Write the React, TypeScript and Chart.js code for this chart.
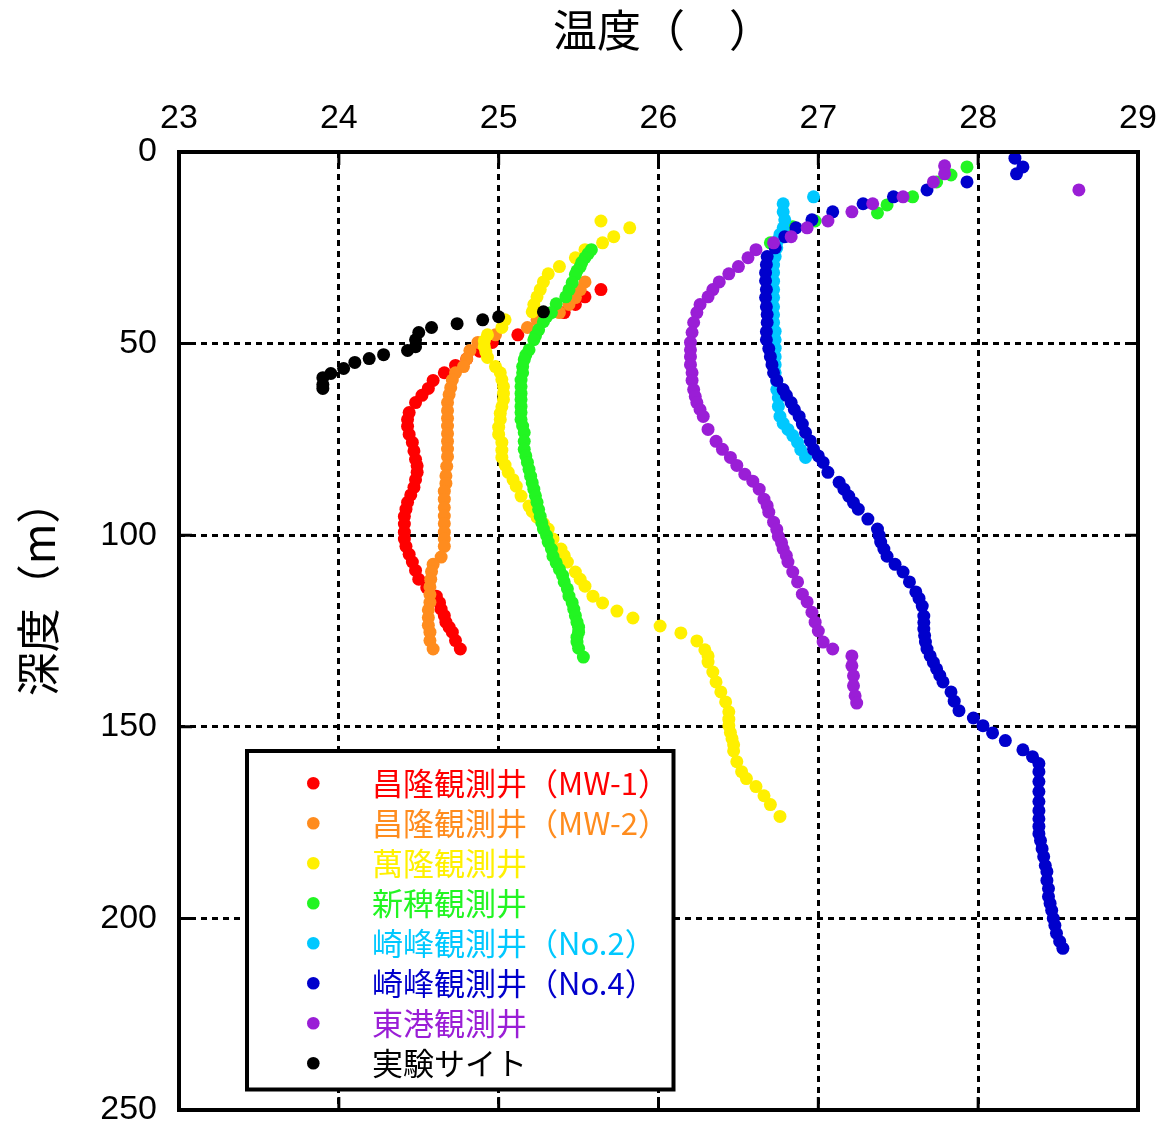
import React, { useEffect, useRef } from "react";
import { Chart, registerables } from "chart.js";

Chart.register(...registerables);

const xTicks = [23, 24, 25, 26, 27, 28, 29];
const yTicks = [0, 50, 100, 150, 200, 250];
const xTitle = "温度（　）";
const yTitle = "深度（m）";

const seriesNames = [
  "昌隆観測井（MW-1）",
  "昌隆観測井（MW-2）",
  "萬隆観測井",
  "新稗観測井",
  "崎峰観測井（No.2）",
  "崎峰観測井（No.4）",
  "東港観測井",
  "実験サイト",
];
const seriesColors = [
  "#ff0000",
  "#ff8c1e",
  "#fff000",
  "#22f522",
  "#00c8ff",
  "#0000cc",
  "#9a1ed6",
  "#000000",
];

// [temperature, depth]
const mw1: [number, number][] = [
  [25.64, 35.9], [25.54, 37.8], [25.48, 39.8], [25.41, 41.9], [25.12, 47.7],
  [24.96, 49.7], [24.88, 52.0], [24.8, 54.0], [24.73, 55.7], [24.66, 57.6],
  [24.59, 59.6], [24.56, 61.7], [24.52, 63.5], [24.48, 65.4], [24.44, 68.0],
  [24.43, 69.8], [24.43, 71.6], [24.44, 73.7], [24.46, 75.8], [24.47, 78.0],
  [24.48, 80.2], [24.49, 81.9], [24.49, 83.6], [24.48, 85.5], [24.47, 87.5],
  [24.45, 89.5], [24.43, 91.4], [24.42, 93.2], [24.41, 95.1], [24.41, 97.1],
  [24.41, 99.2], [24.41, 101.0], [24.42, 102.9], [24.44, 105.0], [24.46, 107.0],
  [24.48, 109.2], [24.5, 111.5], [24.55, 113.7], [24.61, 115.9], [24.63, 117.6],
  [24.64, 119.3], [24.66, 121.0], [24.67, 122.7], [24.69, 124.0], [24.71, 125.3],
  [24.73, 127.5], [24.76, 129.7],
];

const mw2: [number, number][] = [
  [25.54, 33.9], [25.51, 35.9], [25.48, 38.0], [25.44, 39.8], [25.38, 41.9],
  [25.24, 43.8], [25.18, 45.8], [24.98, 47.7], [24.87, 49.7], [24.82, 51.8],
  [24.8, 54.0], [24.78, 56.0], [24.73, 57.6], [24.71, 59.5], [24.7, 61.5],
  [24.69, 63.3], [24.68, 65.4], [24.68, 67.5], [24.68, 69.5], [24.68, 71.5],
  [24.68, 73.5], [24.68, 75.5], [24.68, 77.5], [24.68, 79.5], [24.675, 82.0],
  [24.67, 84.5], [24.67, 86.5], [24.66, 88.5], [24.66, 90.6], [24.66, 92.8],
  [24.66, 95.0], [24.66, 97.0], [24.66, 99.2], [24.66, 101.0], [24.66, 102.9],
  [24.64, 105.7], [24.59, 107.6], [24.58, 109.5], [24.575, 111.5], [24.57, 113.5],
  [24.57, 115.5], [24.57, 117.5], [24.56, 119.5], [24.56, 121.5], [24.56, 123.5],
  [24.57, 125.3], [24.57, 127.5], [24.59, 129.7],
];

const wanlong: [number, number][] = [
  [25.64, 18.0], [25.82, 19.8], [25.72, 22.1], [25.65, 23.7], [25.54, 25.5],
  [25.48, 27.6], [25.38, 29.9], [25.31, 31.8], [25.28, 33.9], [25.26, 35.9],
  [25.24, 37.8], [25.22, 39.8], [25.21, 41.7], [25.04, 43.8], [25.02, 45.8],
  [24.93, 47.7], [24.91, 49.3], [24.91, 50.8], [24.92, 52.2], [24.93, 53.6],
  [24.98, 56.0], [25.01, 57.6], [25.02, 59.4], [25.03, 61.2], [25.03, 63.0],
  [25.03, 64.6], [25.02, 66.5], [25.01, 68.2], [25.01, 69.8], [25.0, 71.8],
  [25.0, 73.7], [25.02, 75.8], [25.02, 77.8], [25.02, 79.7], [25.04, 81.7],
  [25.06, 83.6], [25.09, 85.5], [25.11, 87.2], [25.14, 89.8], [25.19, 92.4],
  [25.21, 93.8], [25.24, 95.3], [25.28, 96.9], [25.31, 98.4], [25.34, 101.0],
  [25.39, 103.6], [25.41, 105.3], [25.43, 107.0], [25.48, 109.6], [25.51, 111.5],
  [25.54, 113.3], [25.59, 115.9], [25.65, 117.7], [25.74, 119.8], [25.84, 121.6],
  [26.01, 123.7], [26.14, 125.5], [26.24, 127.6], [26.29, 129.9], [26.31, 131.5],
  [26.31, 133.1], [26.34, 135.7], [26.36, 138.3], [26.39, 140.9], [26.42, 143.5],
  [26.44, 146.1], [26.44, 148.0], [26.44, 149.7], [26.45, 151.5], [26.46, 153.1],
  [26.47, 154.7], [26.47, 156.3], [26.49, 159.1], [26.52, 161.7], [26.55, 163.5],
  [26.61, 165.6], [26.66, 168.0], [26.7, 170.3], [26.76, 173.4],
];

const xinpi: [number, number][] = [
  [27.93, 3.9], [27.83, 6.0], [27.74, 7.8], [27.59, 11.7], [27.43, 13.8],
  [27.37, 15.9], [26.98, 18.0], [26.84, 19.5], [26.7, 23.7],
  [25.58, 25.5], [25.56, 26.5], [25.54, 27.6], [25.52, 28.8], [25.51, 29.9],
  [25.49, 31.0], [25.48, 32.0], [25.46, 34.1], [25.44, 36.0], [25.42, 37.8],
  [25.36, 39.6], [25.33, 41.9], [25.3, 43.0], [25.28, 44.3], [25.25, 46.4],
  [25.23, 48.0], [25.22, 49.0], [25.19, 51.6], [25.17, 53.0], [25.16, 54.2],
  [25.15, 56.0], [25.15, 57.6], [25.14, 59.5], [25.14, 61.2], [25.14, 63.0],
  [25.14, 64.6], [25.14, 66.4], [25.14, 68.0], [25.14, 69.8], [25.15, 71.5],
  [25.16, 73.2], [25.16, 75.5], [25.16, 77.6], [25.17, 79.3], [25.18, 81.0],
  [25.19, 82.8], [25.2, 84.6], [25.21, 86.3], [25.22, 88.0], [25.23, 89.7],
  [25.24, 91.4], [25.25, 93.3], [25.26, 95.1], [25.27, 96.8], [25.28, 98.4],
  [25.3, 100.1], [25.31, 101.8], [25.33, 103.6], [25.34, 105.5], [25.36, 107.2],
  [25.38, 108.9], [25.4, 110.5], [25.41, 112.2], [25.43, 114.0], [25.44, 115.9],
  [25.46, 117.6], [25.47, 119.3], [25.48, 121.0], [25.49, 122.7], [25.5, 124.0],
  [25.5, 125.3], [25.49, 126.6], [25.49, 127.9], [25.5, 129.5], [25.53, 131.8],
];

const qifeng2: [number, number][] = [
  [26.97, 11.7], [26.78, 13.5], [26.78, 15.6], [26.79, 17.7], [26.78, 19.8],
  [26.76, 21.5], [26.75, 22.9], [26.74, 25.0], [26.73, 27.3], [26.72, 29.5],
  [26.72, 31.5], [26.72, 33.7], [26.72, 35.9], [26.72, 38.0], [26.72, 40.4],
  [26.72, 42.5], [26.72, 44.5], [26.73, 46.8], [26.73, 49.0], [26.73, 51.2],
  [26.73, 53.4], [26.73, 55.5], [26.73, 57.6], [26.74, 59.8], [26.74, 62.0],
  [26.75, 64.2], [26.75, 66.4], [26.76, 69.0], [26.78, 70.8], [26.81, 72.4],
  [26.84, 74.0], [26.87, 75.8], [26.89, 77.7], [26.92, 79.7],
];

const qifeng4: [number, number][] = [
  [28.23, 1.6], [28.28, 3.9], [28.24, 5.7], [27.93, 7.8], [27.68, 9.9],
  [27.47, 11.7], [27.28, 13.5], [27.09, 15.6], [26.96, 17.7], [26.86, 19.8],
  [26.79, 22.1], [26.73, 25.0], [26.68, 27.3], [26.675, 29.4], [26.67, 31.5],
  [26.67, 33.6], [26.675, 35.9], [26.67, 38.0], [26.675, 40.4], [26.68, 42.4],
  [26.68, 44.5], [26.675, 46.9], [26.675, 49.0], [26.69, 51.3], [26.7, 53.4],
  [26.71, 55.5], [26.72, 57.6], [26.74, 59.6], [26.78, 62.0], [26.8, 63.5],
  [26.83, 65.4], [26.85, 67.2], [26.88, 69.0], [26.9, 71.0], [26.92, 73.2],
  [26.95, 75.4], [26.97, 77.6], [27.0, 79.3], [27.03, 81.0], [27.06, 83.6],
  [27.13, 86.2], [27.16, 88.0], [27.19, 89.8], [27.22, 91.5], [27.25, 93.2],
  [27.31, 95.8], [27.37, 98.4], [27.38, 100.0], [27.39, 101.8], [27.41, 103.6],
  [27.43, 105.5], [27.48, 107.6], [27.53, 109.6], [27.57, 112.2], [27.61, 114.8],
  [27.63, 116.5], [27.65, 118.5], [27.66, 121.1], [27.66, 122.8], [27.66, 124.5],
  [27.665, 126.2], [27.67, 127.9], [27.68, 129.7], [27.7, 131.5], [27.72, 133.2],
  [27.74, 134.9], [27.76, 136.6], [27.78, 138.3], [27.83, 140.9], [27.85, 143.3],
  [27.88, 145.8], [27.97, 147.7], [28.03, 149.7], [28.09, 151.6], [28.17, 153.6],
  [28.28, 156.0], [28.34, 157.8], [28.38, 159.6], [28.38, 161.7], [28.38, 164.3],
  [28.38, 166.9], [28.38, 169.5], [28.38, 171.9], [28.38, 174.0], [28.38, 176.0],
  [28.38, 177.9], [28.39, 179.7], [28.4, 181.8], [28.41, 183.9], [28.42, 186.2],
  [28.43, 187.8], [28.43, 190.1], [28.44, 192.2], [28.44, 194.3], [28.45, 196.1],
  [28.46, 197.9], [28.47, 200.0], [28.48, 201.8], [28.49, 203.9], [28.51, 206.0],
  [28.53, 207.8],
];

const donggang: [number, number][] = [
  [27.79, 3.6], [27.79, 5.7], [27.72, 7.8], [28.63, 9.9], [27.53, 11.7],
  [27.34, 13.5], [27.21, 15.6], [27.06, 18.0], [26.93, 19.8], [26.83, 22.1],
  [26.72, 23.7], [26.61, 25.5], [26.56, 27.6], [26.5, 29.9], [26.44, 31.8],
  [26.38, 33.9], [26.34, 35.9], [26.31, 37.8], [26.26, 39.8], [26.24, 41.9],
  [26.22, 44.5], [26.21, 47.1], [26.2, 49.7], [26.2, 51.6], [26.2, 53.4],
  [26.2, 55.5], [26.21, 57.6], [26.21, 59.6], [26.22, 62.0], [26.23, 63.8],
  [26.24, 65.4], [26.26, 67.2], [26.28, 69.0], [26.31, 72.4], [26.36, 75.5],
  [26.4, 77.6], [26.45, 79.7], [26.49, 81.8], [26.54, 84.1], [26.59, 85.9],
  [26.63, 88.0], [26.66, 90.6], [26.68, 92.3], [26.69, 94.0], [26.72, 96.6],
  [26.74, 98.5], [26.75, 100.3], [26.77, 102.0], [26.78, 103.6], [26.8, 105.3],
  [26.81, 107.0], [26.84, 109.6], [26.87, 112.2], [26.9, 115.4], [26.93, 117.4],
  [26.96, 120.1], [26.98, 122.7], [27.0, 125.0], [27.03, 127.9], [27.09, 129.7],
  [27.21, 131.5], [27.21, 134.1], [27.22, 136.7], [27.22, 139.3], [27.23, 141.9],
  [27.24, 143.8],
];

const site: [number, number][] = [
  [25.28, 41.7], [25.0, 43.0], [24.9, 43.8], [24.74, 44.8], [24.58, 45.8],
  [24.5, 47.1], [24.48, 49.0], [24.48, 50.8], [24.43, 51.8], [24.28, 52.9],
  [24.19, 53.9], [24.1, 54.9], [24.03, 56.5], [23.95, 57.8], [23.9, 58.9],
  [23.9, 60.7], [23.9, 61.7],
];

const allSeries = [mw1, mw2, wanlong, xinpi, qifeng2, qifeng4, donggang, site];

export default function App() {
  const ref = useRef<HTMLCanvasElement>(null);

  useEffect(() => {
    document.body.style.margin = "0";
    const canvas = ref.current;
    if (!canvas) return;

    const decor = {
      id: "decor",
      afterDatasetsDraw(chart: any) {
        const c = chart.ctx as CanvasRenderingContext2D;
        const a = chart.chartArea;
        const xs = chart.scales.x;
        const ys = chart.scales.y;
        c.save();
        // inner ticks
        c.strokeStyle = "#000";
        c.lineWidth = 3;
        c.beginPath();
        for (const v of xTicks) {
          const px = xs.getPixelForValue(v);
          c.moveTo(px, a.top);
          c.lineTo(px, a.top + 13);
          c.moveTo(px, a.bottom);
          c.lineTo(px, a.bottom - 13);
        }
        for (const v of yTicks) {
          const py = ys.getPixelForValue(v);
          c.moveTo(a.left, py);
          c.lineTo(a.left + 13, py);
          c.moveTo(a.right, py);
          c.lineTo(a.right - 13, py);
        }
        c.stroke();
        // frame
        c.lineWidth = 4;
        c.strokeRect(a.left, a.top, a.right - a.left, a.bottom - a.top);

        // legend
        const lx = 247, ly = 751, lw = 426.5, lh = 338.5;
        c.fillStyle = "#fff";
        c.fillRect(lx, ly, lw, lh);
        c.lineWidth = 4;
        c.strokeStyle = "#000";
        c.strokeRect(lx, ly, lw, lh);
        c.font = '31px "Noto Sans CJK JP"';
        c.textBaseline = "middle";
        c.textAlign = "left";
        chart.data.datasets.forEach((ds: any, i: number) => {
          const y = 783.3 + 40 * i;
          c.fillStyle = ds.backgroundColor;
          c.beginPath();
          c.arc(313.3, y, 6.3, 0, Math.PI * 2);
          c.fill();
          c.fillText(ds.label, 372, y);
        });

        // axis titles
        c.fillStyle = "#000";
        c.font = '44px "Noto Sans CJK JP"';
        c.textAlign = "center";
        c.textBaseline = "middle";
        c.fillText(xTitle, 663, 30);
        c.translate(38, 588);
        c.rotate(-Math.PI / 2);
        c.fillText(yTitle, 0, 0);
        c.restore();
      },
    };

    const gridOpts = { color: "#000", lineWidth: 3, drawTicks: false };
    const borderOpts = { display: false, dash: [6, 5] };

    const chart = new Chart(canvas, {
      type: "scatter",
      data: {
        datasets: allSeries.map((s, i) => ({
          label: seriesNames[i],
          data: s.map(([x, y]) => ({ x, y })),
          backgroundColor: seriesColors[i],
          borderColor: seriesColors[i],
          pointRadius: 6.5,
          pointHoverRadius: 6.5,
          pointBorderWidth: 0,
          order: 8 - i,
        })),
      },
      options: {
        animation: false,
        responsive: false,
        events: [],
        layout: { padding: { top: 0, left: 0, right: 26, bottom: 18 } },
        plugins: { legend: { display: false }, tooltip: { enabled: false } },
        scales: {
          x: {
            type: "linear",
            position: "top",
            min: 23,
            max: 29,
            ticks: {
              stepSize: 1,
              color: "#000",
              padding: 13,
              font: { family: "Liberation Sans", size: 34 },
            },
            grid: gridOpts,
            border: borderOpts,
            afterFit(s: any) {
              s.height = 152;
              s.paddingLeft = 0;
              s.paddingRight = 0;
            },
          },
          y: {
            type: "linear",
            position: "left",
            reverse: true,
            min: 0,
            max: 250,
            ticks: {
              stepSize: 50,
              color: "#000",
              padding: 22,
              font: { family: "Liberation Sans", size: 34, lineHeight: 1 },
            },
            grid: gridOpts,
            border: borderOpts,
            afterFit(s: any) {
              s.width = 179;
              s.paddingTop = 0;
              s.paddingBottom = 0;
            },
          },
        },
      } as any,
      plugins: [decor],
    });

    return () => chart.destroy();
  }, []);

  return (
    <canvas
      ref={ref}
      width={1164}
      height={1128}
      style={{ display: "block", width: 1164, height: 1128 }}
    />
  );
}
